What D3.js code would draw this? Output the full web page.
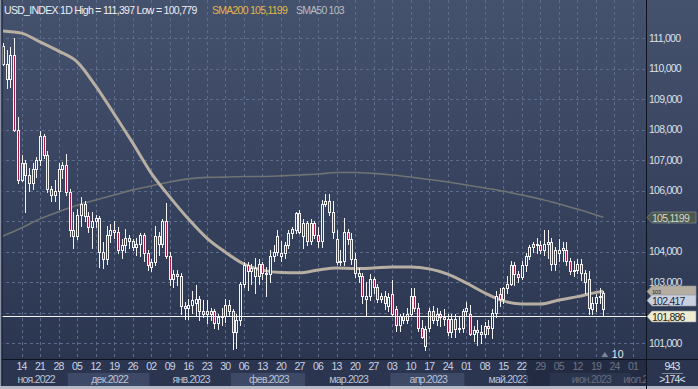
<!DOCTYPE html>
<html>
<head>
<meta charset="utf-8">
<script src="https://cdn.jsdelivr.net/npm/d3@7"></script>
<style>
body { margin: 0; background: #2e3955; }
svg { display: block; }
text { font-family: "Liberation Sans", Arial, sans-serif; }
</style>
</head>
<body>
<svg id="chart" width="698" height="389"></svg>
<script>
// daily candles, 2022-11-07 .. 2023-06-21 (one slot per weekday)
var opens = [110.75,110.15,109.65,110.45,108.00,106.35,106.90,106.50,106.25,106.70,
  107.00,107.80,107.15,106.05,105.85,106.00,106.70,106.85,105.95,104.70,
  104.50,105.20,105.55,105.15,104.80,105.00,105.10,104.00,103.75,104.55,
  104.70,104.65,104.05,104.20,104.45,104.35,104.15,104.25,104.55,103.95,
  103.50,103.65,104.50,104.25,105.00,103.85,103.10,103.25,103.20,102.20,
  102.15,102.25,102.30,102.45,102.05,102.05,101.95,102.05,101.65,101.85,
  101.90,102.25,102.05,101.35,101.75,102.95,103.55,103.35,103.45,103.20,
  103.60,103.30,103.25,103.85,104.00,103.85,103.95,104.20,104.60,104.70,
  105.25,104.50,104.95,104.35,104.95,104.55,104.35,105.55,105.65,105.30,
  104.40,103.65,103.70,104.65,104.40,103.75,103.30,103.20,102.45,102.55,
  103.10,102.85,102.45,102.55,102.20,102.60,102.10,101.60,101.90,101.75,
  101.95,102.55,102.15,101.50,101.45,101.50,102.05,101.75,101.95,101.85,
  101.80,101.35,101.80,101.45,101.50,102.05,101.95,101.30,101.42,101.35,
  101.30,101.55,101.50,102.00,102.60,102.45,102.80,102.95,103.55,103.25,
  103.15,103.55,103.85,104.15,104.25,104.20,104.05,104.25,104.30,103.60,
  103.95,104.05,104.05,103.70,103.35,103.40,103.60,103.30,103.10,102.10,
  102.30,102.50,102.65];
var highs = [110.85,110.60,110.70,111.00,108.40,107.15,107.00,106.75,106.90,107.10,
  107.95,107.85,107.30,106.15,106.35,106.90,106.95,107.20,106.05,105.30,
  105.40,105.80,105.65,105.30,105.30,105.20,105.15,104.30,104.85,104.90,
  105.00,104.80,104.40,104.75,104.55,104.40,104.45,104.60,104.60,104.05,
  103.75,104.85,104.65,105.05,105.60,104.00,103.40,103.40,103.30,102.35,
  102.45,102.70,102.90,102.55,102.40,102.40,102.15,102.10,101.95,102.15,
  102.45,102.40,102.10,101.95,103.00,103.65,103.65,103.60,103.80,103.75,
  103.65,103.50,104.05,104.20,104.70,104.35,104.30,104.70,104.80,105.30,
  105.35,105.05,105.00,105.05,105.00,104.80,105.70,105.90,105.90,105.65,
  104.70,104.05,105.10,104.75,104.60,103.95,103.45,103.30,103.00,103.25,
  103.15,102.95,102.65,102.70,102.65,103.05,102.20,101.95,102.00,102.15,
  102.80,102.80,102.30,101.75,101.55,102.15,102.20,102.15,102.05,102.10,
  101.95,101.95,101.95,101.85,102.10,102.35,102.25,101.55,101.75,101.60,
  101.70,101.75,102.10,102.70,102.80,102.85,103.20,103.70,103.65,103.35,
  103.70,103.95,104.20,104.30,104.45,104.35,104.70,104.70,104.45,104.15,
  104.40,104.30,104.30,103.80,103.70,103.75,103.75,103.40,103.35,102.50,
  102.60,102.80,102.70];
var lows = [110.10,109.35,109.40,107.95,106.25,106.30,105.30,106.00,106.05,106.45,
  106.85,107.05,105.95,105.65,105.65,105.40,106.40,105.85,104.50,104.10,
  104.40,104.85,105.00,104.65,104.10,104.80,103.50,103.45,103.60,104.30,
  104.45,103.95,103.80,104.00,104.10,104.05,103.90,103.85,103.70,103.40,
  103.35,103.55,103.90,104.15,103.80,102.90,102.85,102.90,101.95,101.80,
  101.80,102.00,101.90,101.75,101.85,101.65,101.75,101.50,101.45,101.60,
  101.70,101.90,100.80,100.85,101.60,102.85,102.75,102.95,102.65,102.95,
  103.10,102.55,103.00,103.70,103.90,103.70,103.80,104.10,104.45,104.60,
  104.60,104.10,104.20,104.25,104.45,104.15,104.15,105.50,105.20,104.45,
  103.60,103.55,103.55,104.25,103.60,103.15,103.00,102.30,101.90,102.40,
  102.65,102.35,102.35,102.10,102.05,101.90,101.40,101.40,101.65,101.65,
  101.90,102.05,101.40,101.15,100.78,101.40,101.65,101.60,101.55,101.60,
  101.25,101.20,101.20,101.35,101.35,101.90,101.25,101.05,100.95,101.00,
  101.20,101.30,101.15,101.85,102.20,102.30,102.65,102.90,102.90,103.00,
  103.10,103.35,103.75,104.00,103.95,103.95,103.90,103.80,103.40,103.40,
  103.70,103.70,103.55,103.25,103.20,103.30,103.05,102.65,101.95,101.95,
  102.05,102.30,101.90];
var closes = [110.15,109.65,110.45,108.00,106.35,106.90,106.50,106.25,106.70,107.00,
  107.80,107.15,106.05,105.85,106.00,106.70,106.85,105.95,104.70,104.50,
  105.20,105.55,105.15,104.80,105.00,105.10,104.00,103.75,104.55,104.70,
  104.65,104.05,104.20,104.45,104.35,104.15,104.25,104.55,103.95,103.55,
  103.65,104.50,104.25,105.00,103.85,103.10,103.25,103.20,102.20,102.15,
  102.25,102.40,102.45,102.05,101.95,101.95,102.05,101.65,101.85,101.90,
  102.25,102.05,101.35,101.75,102.95,103.55,103.35,103.45,103.20,103.60,
  103.30,103.25,103.85,104.00,104.50,103.95,104.20,104.60,104.75,105.25,
  104.65,104.95,104.35,104.95,104.55,104.35,105.55,105.65,105.30,104.65,
  103.65,103.70,104.65,104.40,103.75,103.30,103.20,102.55,102.55,103.10,
  102.85,102.45,102.55,102.30,102.50,101.95,101.60,101.90,101.75,101.95,
  102.55,102.15,101.50,101.20,100.90,102.05,101.75,101.95,101.85,101.80,
  101.35,101.80,101.45,101.50,102.05,102.15,101.30,101.42,101.35,101.30,
  101.55,101.50,102.00,102.55,102.45,102.80,102.95,103.55,103.25,103.15,
  103.55,103.85,104.15,104.25,104.20,104.05,104.25,104.30,103.60,104.05,
  104.05,104.10,103.70,103.35,103.40,103.60,103.30,103.00,102.15,102.30,
  102.50,102.55,102.10];

// moving averages, one point per week
var smaIdx = [0,5,10,15,20,25,30,35,40,45,50,55,60,65,70,75,80,85,90,95,
  100,105,110,115,120,125,130,135,140,145,150,155,160,162];
var sma50 = [111.23,111.16,110.87,110.57,110.22,109.43,108.51,107.56,106.57,105.79,
  105.07,104.44,103.98,103.59,103.39,103.31,103.30,103.39,103.46,103.44,
  103.46,103.49,103.49,103.43,103.26,102.97,102.64,102.38,102.28,102.28,
  102.41,102.52,102.66,102.70];
var sma200 = [104.51,104.77,105.07,105.30,105.52,105.69,105.85,106.02,106.15,106.28,
  106.38,106.43,106.44,106.46,106.46,106.48,106.51,106.54,106.59,106.59,
  106.56,106.51,106.44,106.36,106.28,106.18,106.08,105.98,105.85,105.72,
  105.56,105.39,105.20,105.12];

// axis texts
var weekLabels = ['14','21','28','05','12','19','26','02','09','16','23','30','06','13','20','27',
  '06','13','20','27','03','10','17','24','01','08','15','22','29','05','12','19','24','01'];
var monthNames = ['ноя.2022','дек.2022','янв.2023','фев.2023','мар.2023','апр.2023','май.2023','июн.2023','июл.2023'];
var monthStart = [-4, 18, 40, 62, 82, 105, 125, 148, 170, 177];
var priceTicks = [101,102,103,104,105,106,107,108,109,110,111];

var lastPrice = 101.886, bidPrice = 102.417;

var svg = d3.select('#chart');
var defs = svg.append('defs');

var grad = defs.append('linearGradient').attr('id', 'bg')
    .attr('gradientUnits', 'userSpaceOnUse')
    .attr('x1', 0).attr('y1', 0).attr('x2', 0).attr('y2', 389);
grad.append('stop').attr('offset', '0%').attr('stop-color', '#45526e');
grad.append('stop').attr('offset', '100%').attr('stop-color', '#29334e');

defs.append('clipPath').attr('id', 'plotClip')
    .append('rect').attr('x', 2).attr('y', 0).attr('width', 644).attr('height', 359);
defs.append('clipPath').attr('id', 'axisClip')
    .append('rect').attr('x', 2).attr('y', 359).attr('width', 644).attr('height', 30);

svg.append('rect').attr('width', 698).attr('height', 389).attr('fill', 'url(#bg)');

// scales
var x = d3.scaleLinear().domain([0, 170]).range([2.97, 633.0]);
var y = d3.scaleLinear().domain([101, 111]).range([343, 38]);
var half = (x(1) - x(0)) / 2;
var K = 0.86;

// terminal font is narrow: use Liberation Sans Narrow if it is there
var probe = svg.append('text').attr('font-size', 20).style('font-family', 'monospace').text('USD_INDEX 111,000');
var w0 = probe.node().getComputedTextLength();
probe.style('font-family', '"Liberation Sans Narrow", monospace');
var narrow = Math.abs(probe.node().getComputedTextLength() - w0) > 0.5;
probe.remove();

function fit(node, k) {
    var t = d3.select(node)
        .style('font-family', '"Liberation Sans", Arial, sans-serif')
        .style('letter-spacing', null);
    var target = node.getComputedTextLength() * k;
    if (narrow) t.style('font-family', '"Liberation Sans Narrow", "Liberation Sans", sans-serif');
    var len = node.getComputedTextLength();
    t.style('letter-spacing', ((target - len) / node.textContent.length).toFixed(3) + 'px');
}
function squeeze(sel, k) {
    sel.each(function () { fit(this, k); });
}
function fmt(v, d) { return v.toFixed(d).replace('.', ','); }

var plot = svg.append('g').attr('clip-path', 'url(#plotClip)');

// grid
plot.selectAll('.hgrid').data(priceTicks).enter().append('line')
    .attr('x1', 0).attr('x2', 646)
    .attr('y1', function (d) { return Math.round(y(d)) + 0.5; })
    .attr('y2', function (d) { return Math.round(y(d)) + 0.5; })
    .attr('stroke', '#5d6c8d').attr('stroke-dasharray', '3,3');

plot.selectAll('.vgrid').data(weekLabels).enter().append('line')
    .attr('x1', function (d, i) { return Math.round(x(5 + 5 * i)) + 0.5; })
    .attr('x2', function (d, i) { return Math.round(x(5 + 5 * i)) + 0.5; })
    .attr('y1', 0).attr('y2', 359)
    .attr('stroke', '#5d6c8d').attr('stroke-dasharray', '3,3');

// moving averages
var smaLine = d3.line()
    .x(function (d, i) { return x(smaIdx[i]); })
    .y(function (d) { return y(d); })
    .curve(d3.curveMonotoneX);

plot.append('path').datum(sma200).attr('d', smaLine)
    .attr('fill', 'none').attr('stroke', '#6f7373').attr('stroke-width', 1.6);
plot.append('path').datum(sma50).attr('d', smaLine)
    .attr('fill', 'none').attr('stroke', '#b8afa3').attr('stroke-width', 3);

// candles
var candles = plot.selectAll('.candle').data(opens).enter().append('g').attr('class', 'candle');

candles.append('line')
    .attr('x1', function (d, i) { return Math.round(x(i)) + 0.5; })
    .attr('x2', function (d, i) { return Math.round(x(i)) + 0.5; })
    .attr('y1', function (d, i) { return Math.round(y(highs[i])); })
    .attr('y2', function (d, i) { return Math.round(y(lows[i])) + 1; })
    .attr('stroke', '#f2f2f2').attr('stroke-width', 1);

candles.append('rect')
    .attr('x', function (d, i) { return Math.round(x(i)) - 0.5; })
    .attr('y', function (d, i) { return Math.round(y(Math.max(d, closes[i]))) + 0.5; })
    .attr('width', 2)
    .attr('height', function (d, i) {
        return Math.max(1, Math.round(y(Math.min(d, closes[i]))) - Math.round(y(Math.max(d, closes[i]))));
    })
    .attr('fill', function (d, i) { return closes[i] < d ? '#a31d43' : 'url(#bg)'; })
    .attr('stroke', '#f2f2f2').attr('stroke-width', 1);

// last price line
plot.append('line')
    .attr('x1', 0).attr('x2', 646)
    .attr('y1', Math.round(y(lastPrice)) + 0.5).attr('y2', Math.round(y(lastPrice)) + 0.5)
    .attr('stroke', '#f4f4f4').attr('stroke-width', 1);

// candle counter marker
svg.append('path')
    .attr('d', 'M' + (x(162) - 2) + ',357 l3.5,-5 l3.5,5 z')
    .attr('fill', '#7d8597');
svg.append('text').attr('x', x(162) + 8.5).attr('y', 357.5)
    .attr('font-size', 10.5).attr('fill', '#e6e8ee').text('10');

// frame lines
svg.append('rect').attr('x', 0).attr('y', 359).attr('width', 698).attr('height', 30).attr('fill', '#2b3550');
svg.append('line').attr('x1', 0).attr('x2', 698).attr('y1', 359.5).attr('y2', 359.5).attr('stroke', '#0e1320');
svg.append('rect').attr('x', 0).attr('y', 0).attr('width', 1.5).attr('height', 389).attr('fill', '#8a93a8');
svg.append('rect').attr('x', 1.5).attr('y', 0).attr('width', 1).attr('height', 389).attr('fill', '#151b2a');
svg.append('rect').attr('x', 0).attr('y', 386).attr('width', 698).attr('height', 3).attr('fill', '#b5bac6');

// bottom axis
var axis = svg.append('g').attr('clip-path', 'url(#axisClip)');
var bands = [];
for (var m = 0; m < monthNames.length; m++) {
    bands.push({
        name: monthNames[m],
        x0: Math.max(2.5, x(monthStart[m]) - half),
        x1: Math.min(646, x(monthStart[m + 1]) - half),
        shade: m % 2 === 1
    });
}
axis.selectAll('.band').data(bands.filter(function (b) { return b.shade; })).enter().append('rect')
    .attr('x', function (b) { return b.x0; })
    .attr('width', function (b) { return b.x1 - b.x0; })
    .attr('y', 373).attr('height', 13)
    .attr('fill', '#3d4966');

// month names, cut at the axis end like the terminal does
axis.selectAll('.month').data(bands).enter().append('text')
    .attr('y', 383)
    .attr('font-size', 10.5).attr('fill', '#bcc4d6')
    .each(function (b) {
        var t = d3.select(this).text(b.name);
        fit(this, K);
        var w = this.getBBox().width;
        var left = (b.x0 + b.x1) / 2 + 1.5 - w / 2;
        if (b.x1 >= 646) left = b.x0 - 8;
        var s = b.name;
        while (s.length > 1 && left + this.getBBox().width > 649) {
            s = s.slice(0, -1);
            t.text(s);
            fit(this, K);
        }
        t.attr('x', left);
    });

axis.selectAll('.day').data(weekLabels).enter().append('text')
    .attr('x', function (d, i) { return x(5 + 5 * i); })
    .attr('y', 370)
    .attr('text-anchor', 'middle')
    .attr('font-size', 10.5).attr('fill', '#ccd3e2')
    .text(function (d) { return d; })
    .call(squeeze, K);

axis.append('rect').attr('x', 526).attr('y', 360).attr('width', 120).attr('height', 26)
    .attr('fill', '#1c2236').attr('opacity', 0.55);

svg.append('line').attr('x1', 646.5).attr('x2', 646.5).attr('y1', 0).attr('y2', 389).attr('stroke', '#0e1320');

// right axis price tags
var tags = [
    { v: sma200[sma200.length - 1], label: '105,1199', fill: '#4e5749', color: '#d2d6ca', size: 10.5, dy: 4.5 },
    { v: sma50[sma50.length - 1], label: fmt(sma50[sma50.length - 1], 0), fill: '#b6ada1', color: '#2a2a2a', size: 6, dy: 2.7 },
    { v: bidPrice, label: fmt(bidPrice, 3), fill: '#c9d0df', color: '#1c2a45', size: 10.5, dy: 5 },
    { v: lastPrice, label: fmt(lastPrice, 3), fill: '#eeedd2', color: '#262620', size: 10.5, dy: 4.5 }
];

// price labels that a tag would cover are left out
var freeTicks = priceTicks.filter(function (p) {
    return tags.every(function (t) { return Math.abs(y(p) - y(t.v)) > 9; });
});
svg.selectAll('.ptick').data(freeTicks).enter().append('text')
    .attr('x', 649).attr('y', function (d) { return y(d) + 3.6; })
    .attr('font-size', 10.5).attr('fill', '#dde1ea')
    .text(function (d) { return fmt(d, 3); })
    .call(squeeze, K);

var tg = svg.selectAll('.tag').data(tags).enter().append('g');
tg.append('path')
    .attr('d', function (t) {
        var c = Math.round(y(t.v)) + 0.5;
        return 'M647,' + c + 'L652,' + (c - 5.5) + 'L696,' + (c - 5.5) + 'L696,' + (c + 5.5) + 'L652,' + (c + 5.5) + 'Z';
    })
    .attr('fill', function (t) { return t.fill; })
    .attr('stroke', '#8d93a0').attr('stroke-width', 0.6);
tg.append('text')
    .attr('x', 652).attr('y', function (t) { return Math.round(y(t.v)) + t.dy; })
    .attr('font-size', function (t) { return t.size; })
    .attr('fill', function (t) { return t.color; })
    .text(function (t) { return t.label; })
    .call(squeeze, K);

// bottom right box
svg.append('text').attr('x', 672).attr('y', 370).attr('text-anchor', 'middle')
    .attr('font-size', 10.5).attr('fill', '#dde1ea').text('943').call(squeeze, K);
svg.append('line').attr('x1', 662).attr('x2', 683).attr('y1', 373.5).attr('y2', 373.5)
    .attr('stroke', '#7e879c');
svg.append('text').attr('x', 672).attr('y', 383).attr('text-anchor', 'middle')
    .attr('font-size', 10.5).attr('fill', '#dde1ea').text('>174<').call(squeeze, K);

// legend
var legend = svg.append('g').attr('font-size', 10.5);
legend.append('text').attr('x', 4).attr('y', 13.5).attr('fill', '#eceef3')
    .text('USD_INDEX 1D High = 111,397 Low = 100,779').call(squeeze, 0.87);
legend.append('text').attr('x', 212).attr('y', 13.5).attr('fill', '#e3b546')
    .text('SMA200 105,1199').call(squeeze, 0.87);
legend.append('text').attr('x', 296).attr('y', 13.5).attr('fill', '#b9bbbf')
    .text('SMA50 103').call(squeeze, 0.87);
</script>
</body>
</html>
